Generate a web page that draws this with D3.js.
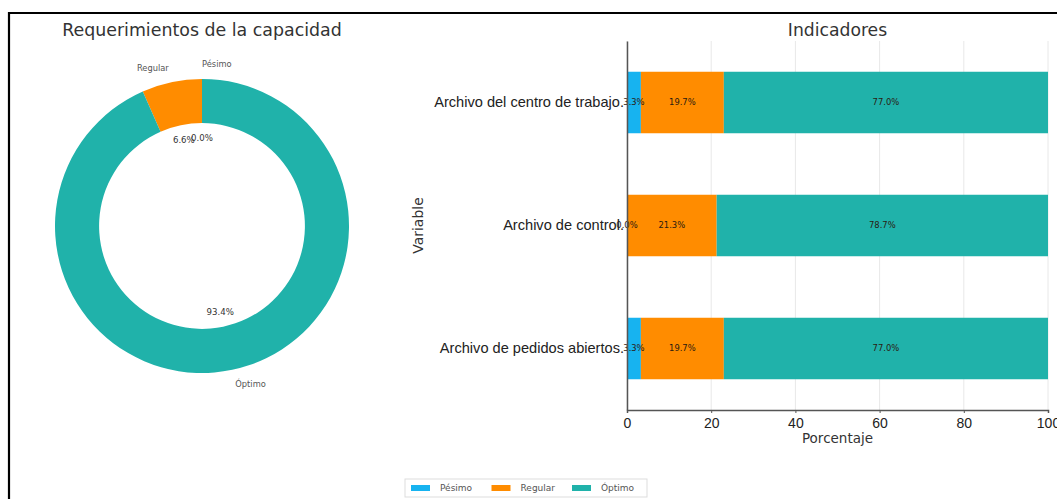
<!DOCTYPE html>
<html>
<head>
<meta charset="utf-8">
<script src="https://cdn.jsdelivr.net/npm/d3@7"></script>
<style>
  html, body { margin: 0; padding: 0; background: #fff; }
  svg { display: block; font-family: "DejaVu Sans", sans-serif; }
</style>
</head>
<body>
<svg id="chart" width="1057" height="499"></svg>
<script>
// Categories and values
const levels = ["Pésimo", "Regular", "Óptimo"];
const levelColors = ["#17b3f0", "#ff8c00", "#20b2aa"];

// Donut: overall capacity requirements (%)
const donutValues = [0.0, 6.6, 93.4];

// Stacked bars: indicators (%)
const variables = ["Archivo del centro de trabajo.", "Archivo de control.", "Archivo de pedidos abiertos."];
const pesimoValues = [3.3, 0.0, 3.3];
const regularValues = [19.7, 21.3, 19.7];
const optimoValues = [77.0, 78.7, 77.0];

const xTicks = [0, 20, 40, 60, 80, 100];

const svg = d3.select("#chart");
const color = d3.scaleOrdinal().domain(levels).range(levelColors);

// Outer frame
svg.append("path")
  .attr("d", "M9,506 L9,13 L1064,13")
  .attr("fill", "none").attr("stroke", "#000").attr("stroke-width", 2.2);

// ---------- Donut ----------
const cx = 202, cy = 226, rOuter = 147, rInner = rOuter * 0.7;
svg.append("text")
  .attr("x", cx).attr("y", 36)
  .attr("text-anchor", "middle")
  .attr("font-size", 17.4).attr("fill", "#333")
  .text("Requerimientos de la capacidad");

const pie = d3.pie().sort(null)
  .startAngle(0).endAngle(-2 * Math.PI)
  .value(d => d.v);
const donutData = levels.map((k, i) => ({ k, v: donutValues[i] }));
const arcs = pie(donutData);
const arc = d3.arc().innerRadius(rInner).outerRadius(rOuter);

const g = svg.append("g").attr("transform", `translate(${cx},${cy})`);
g.selectAll("path.slice").data(arcs).enter().append("path")
  .attr("class", "slice")
  .attr("d", arc)
  .attr("fill", d => color(d.data.k));

// Category labels at 1.1 r, percentage labels at 0.6 r
arcs.forEach(a => {
  const mid = (a.startAngle + a.endAngle) / 2;
  const sx = Math.sin(mid), sy = -Math.cos(mid);
  const lx = sx * rOuter * 1.1, ly = sy * rOuter * 1.1;
  g.append("text")
    .attr("x", lx).attr("y", ly)
    .attr("dy", "0.35em")
    .attr("text-anchor", sx >= -1e-9 ? "start" : "end")
    .attr("font-size", 8.3).attr("fill", "#555")
    .text(a.data.k);
  g.append("text")
    .attr("x", sx * rOuter * 0.6).attr("y", sy * rOuter * 0.6)
    .attr("dy", "0.35em")
    .attr("text-anchor", "middle")
    .attr("font-size", 8.6).attr("fill", "#333")
    .text(a.data.v.toFixed(1) + "%");
});

// ---------- Stacked horizontal bars ----------
const x0 = 627, x1 = 1048, yTop = 41, yBot = 410;
const x = d3.scaleLinear().domain([0, 100]).range([x0, x1]);
const y = d3.scaleBand().domain(variables).range([yTop, yBot]).paddingInner(0.5).paddingOuter(0.25);

svg.append("text")
  .attr("x", (x0 + x1) / 2).attr("y", 36)
  .attr("text-anchor", "middle")
  .attr("font-size", 17.2).attr("fill", "#333")
  .text("Indicadores");

// Grid
svg.append("g").selectAll("line").data(xTicks).enter().append("line")
  .attr("x1", d => x(d)).attr("x2", d => x(d))
  .attr("y1", yTop).attr("y2", yBot)
  .attr("stroke", "#e8e8e8").attr("stroke-width", 1);

const rows = variables.map((v, i) => ({
  variable: v, "Pésimo": pesimoValues[i], "Regular": regularValues[i], "Óptimo": optimoValues[i]
}));
const stack = d3.stack().keys(levels)(rows);

const layers = svg.append("g").selectAll("g").data(stack).enter().append("g")
  .attr("fill", d => color(d.key));
layers.selectAll("rect").data(d => d).enter().append("rect")
  .attr("x", d => x(d[0]))
  .attr("y", d => y(d.data.variable))
  .attr("width", d => x(d[1]) - x(d[0]))
  .attr("height", y.bandwidth());

// Segment value labels
const labels = svg.append("g");
stack.forEach(layer => {
  layer.forEach(d => {
    labels.append("text")
      .attr("x", x((d[0] + d[1]) / 2))
      .attr("y", y(d.data.variable) + y.bandwidth() / 2)
      .attr("dy", "0.35em")
      .attr("text-anchor", "middle")
      .attr("font-size", 8.4).attr("fill", "#2a1a10")
      .text((d[1] - d[0]).toFixed(1) + "%");
  });
});

// Axes
const xAxis = svg.append("g")
  .attr("transform", `translate(0,${yBot})`)
  .call(d3.axisBottom(x).tickValues(xTicks).tickSize(3).tickFormat(d3.format("d")));
xAxis.select(".domain").attr("stroke", "#555").attr("stroke-width", 1.5);
xAxis.selectAll(".tick line").attr("stroke", "#555");
xAxis.selectAll("text").attr("font-size", 14).attr("fill", "#222").attr("dy", "0.85em");

const yAxis = svg.append("g")
  .attr("transform", `translate(${x0},0)`)
  .call(d3.axisLeft(y).tickSize(0).tickPadding(3));
yAxis.select(".domain").attr("stroke", "#555").attr("stroke-width", 1.5);
yAxis.selectAll("text").attr("font-size", 14.6).attr("fill", "#222");

svg.append("text")
  .attr("x", (x0 + x1) / 2).attr("y", 443)
  .attr("text-anchor", "middle")
  .attr("font-size", 13.5).attr("fill", "#333")
  .text("Porcentaje");

svg.append("text")
  .attr("transform", `translate(423,${(yTop + yBot) / 2}) rotate(-90)`)
  .attr("text-anchor", "middle")
  .attr("font-size", 14).attr("fill", "#333")
  .text("Variable");

// ---------- Legend ----------
const legend = svg.append("g");
legend.append("rect")
  .attr("x", 405).attr("y", 479).attr("width", 242).attr("height", 18)
  .attr("fill", "#fff").attr("stroke", "#ddd");
const legendX = d3.scalePoint().domain(levels).range([411, 572]);
levels.forEach(k => {
  legend.append("rect")
    .attr("x", legendX(k)).attr("y", 485).attr("width", 19).attr("height", 6)
    .attr("fill", color(k));
  legend.append("text")
    .attr("x", legendX(k) + 29).attr("y", 488)
    .attr("dy", "0.35em")
    .attr("font-size", 9).attr("fill", "#555")
    .text(k);
});
</script>
</body>
</html>
